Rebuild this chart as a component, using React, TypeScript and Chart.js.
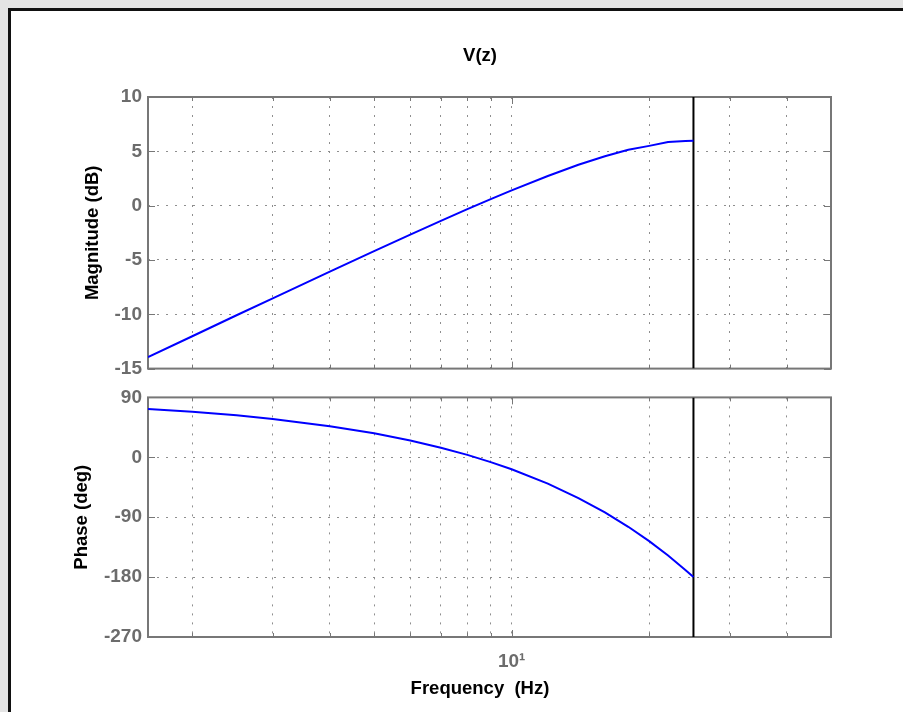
import React, { useEffect, useRef } from 'react';
import { Chart, registerables } from 'chart.js';

Chart.register(...registerables);

// ---- data ----
const freqHz = [1.6, 2, 2.5, 3, 4, 5, 6, 7, 8, 9, 10, 12, 14, 16, 18, 20, 22, 24, 25];
const magnitudeDb = [-13.95, -12.02, -10.09, -8.53, -6.07, -4.18, -2.66, -1.4, -0.32, 0.6, 1.41, 2.73, 3.76, 4.55, 5.15, 5.5, 5.85, 5.95, 5.98];
const phaseDeg = [72.7, 68.4, 63, 57.6, 46.8, 36, 25.2, 14.4, 3.6, -7.2, -18, -39.6, -61.2, -82.8, -104.4, -126, -147.6, -169.2, -180];
const nyquistHz = 25;
const freqMin = 1.6;
const freqMax = 50;
const freqGridValues = [2, 3, 4, 5, 6, 7, 8, 9, 10, 20, 30, 40];
const freqTickLabels: Record<number, string> = { 10: '10\u00B9' };
const magTickValues = [-15, -10, -5, 0, 5, 10];
const phaseTickValues = [-270, -180, -90, 0, 90];

const FONT = "'Liberation Sans', Arial, Helvetica, sans-serif";
const TICK_COLOR = '#6c6c6c';
const GRID_COLOR = '#8e8e8e';
const BOX_COLOR = '#777777';
const GRID_DASH = [2, 7];
const TITLE_LEFT = 129;

const boxPlugin = {
  id: 'matlabBox',
  afterLayout(chart: any) {
    const tb = chart.titleBlock;
    if (tb) {
      tb.left = TITLE_LEFT;
      tb.right = chart.chartArea.right;
    }
  },
  beforeDatasetsDraw(chart: any) {
    const { ctx, chartArea } = chart;
    const { left, right, top, bottom } = chartArea;
    ctx.save();
    ctx.strokeStyle = BOX_COLOR;
    ctx.lineWidth = 2;
    ctx.strokeRect(left, top, right - left, bottom - top);
    ctx.lineWidth = 1;
    const line = (x1: number, y1: number, x2: number, y2: number) => {
      ctx.beginPath();
      ctx.moveTo(x1, y1);
      ctx.lineTo(x2, y2);
      ctx.stroke();
    };
    const ys = chart.scales.y;
    ys.ticks.forEach((t: any) => {
      const py = Math.round(ys.getPixelForValue(t.value)) + 0.5;
      line(left, py, left + 7, py);
      line(right - 7, py, right, py);
    });
    const xs = chart.scales.x;
    xs.ticks.forEach((t: any) => {
      const px = Math.round(xs.getPixelForValue(t.value)) + 0.5;
      const len = freqTickLabels[t.value] ? 7 : 4;
      line(px, top, px, top + len);
      line(px, bottom - len, px, bottom);
    });
    ctx.restore();
  },
};

const gridOpts = { color: GRID_COLOR, lineWidth: 1, drawTicks: false };
const borderOpts = { display: false, dash: GRID_DASH };
const tickFont = { family: FONT, size: 19, weight: 'bold' as const };
const titleFont = { family: FONT, size: 18.5, weight: 'bold' as const };

function xScale(showLabels: boolean, height: number) {
  return {
    type: 'logarithmic' as const,
    min: freqMin,
    max: freqMax,
    afterBuildTicks: (s: any) => {
      s.ticks = freqGridValues.map((v) => ({ value: v }));
    },
    ticks: {
      display: showLabels,
      autoSkip: false,
      maxRotation: 0,
      minRotation: 0,
      color: TICK_COLOR,
      font: tickFont,
      padding: 13.5,
      callback: (v: any) => freqTickLabels[Number(v)] ?? '',
    },
    grid: gridOpts,
    border: borderOpts,
    afterFit: (s: any) => {
      s.height = height;
    },
  };
}

function yScale(min: number, max: number, values: number[], title: string, titlePad: number) {
  return {
    type: 'linear' as const,
    min,
    max,
    afterBuildTicks: (s: any) => {
      s.ticks = values.map((v) => ({ value: v }));
    },
    ticks: { color: TICK_COLOR, font: tickFont, padding: 6 },
    grid: gridOpts,
    border: borderOpts,
    title: {
      display: true,
      text: title,
      color: '#000',
      font: titleFont,
      padding: { top: titlePad, bottom: 0 },
    },
    afterFit: (s: any) => {
      s.width = 148;
    },
  };
}

function series(values: number[]) {
  return freqHz.map((f, i) => ({ x: f, y: values[i] }));
}

export default function App() {
  const magRef = useRef<HTMLCanvasElement>(null);
  const phaseRef = useRef<HTMLCanvasElement>(null);

  useEffect(() => {
    const magChart = new Chart(magRef.current!, {
      type: 'line',
      data: {
        datasets: [
          {
            label: 'Magnitude',
            data: series(magnitudeDb),
            borderColor: '#0000ff',
            borderWidth: 2,
            pointRadius: 0,
            tension: 0,
            fill: false,
          },
          {
            label: 'Nyquist',
            data: [
              { x: nyquistHz, y: magTickValues[0] },
              { x: nyquistHz, y: magTickValues[magTickValues.length - 1] },
            ],
            borderColor: '#000000',
            borderWidth: 2,
            pointRadius: 0,
          },
        ],
      },
      options: {
        responsive: false,
        animation: false,
        devicePixelRatio: 1,
        layout: { padding: { left: 0, right: 72, top: 0, bottom: 0 } },
        plugins: {
          legend: { display: false },
          tooltip: { enabled: false },
          title: {
            display: true,
            text: 'V(z)',
            color: '#000',
            font: titleFont,
            padding: { top: 44.9, bottom: 29.9 },
          },
        },
        scales: {
          x: xScale(false, 13),
          y: yScale(-15, 10, magTickValues, 'Magnitude (dB)', 81.9),
        },
      } as any,
      plugins: [boxPlugin],
    });

    const phaseChart = new Chart(phaseRef.current!, {
      type: 'line',
      data: {
        datasets: [
          {
            label: 'Phase',
            data: series(phaseDeg),
            borderColor: '#0000ff',
            borderWidth: 2,
            pointRadius: 0,
            tension: 0,
            fill: false,
          },
          {
            label: 'Nyquist',
            data: [
              { x: nyquistHz, y: phaseTickValues[0] },
              { x: nyquistHz, y: phaseTickValues[phaseTickValues.length - 1] },
            ],
            borderColor: '#000000',
            borderWidth: 2,
            pointRadius: 0,
          },
        ],
      },
      options: {
        responsive: false,
        animation: false,
        devicePixelRatio: 1,
        layout: { padding: { left: 0, right: 72, top: 15, bottom: 0 } },
        plugins: {
          legend: { display: false },
          tooltip: { enabled: false },
          title: {
            display: true,
            position: 'bottom',
            text: 'Frequency  (Hz)',
            color: '#000',
            font: titleFont,
            padding: { top: 1, bottom: 11.9 },
          },
        },
        scales: {
          x: xScale(true, 39.9),
          y: yScale(-270, 90, phaseTickValues, 'Phase (deg)', 70.9),
        },
      } as any,
      plugins: [boxPlugin],
    });

    return () => {
      magChart.destroy();
      phaseChart.destroy();
    };
  }, []);

  return (
    <div
      style={{
        position: 'fixed',
        left: 0,
        top: 0,
        width: 903,
        height: 712,
        background: '#e4e4e4',
        overflow: 'hidden',
      }}
    >
      <div
        style={{
          position: 'absolute',
          left: 8,
          top: 8,
          width: 940,
          height: 760,
          background: '#ffffff',
          borderLeft: '3px solid #111',
          borderTop: '3px solid #111',
        }}
      />
      <canvas ref={magRef} width={903} height={386} style={{ position: 'absolute', left: 0, top: 0 }} />
      <canvas ref={phaseRef} width={903} height={332} style={{ position: 'absolute', left: 0, top: 380 }} />
    </div>
  );
}
